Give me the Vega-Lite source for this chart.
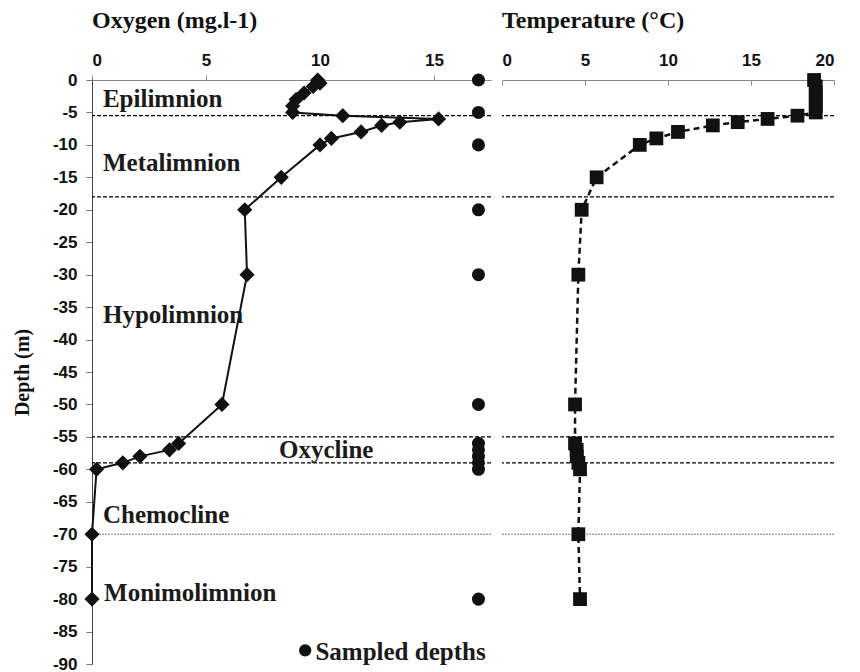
{
  "$schema": "https://vega.github.io/schema/vega-lite/v6.json",
  "background": "white",
  "padding": {"left": 12, "top": 9, "right": 5, "bottom": 3},
  "spacing": 9,
  "config": {
    "view": {"stroke": null},
    "axis": {"grid": false, "labelFont": "Liberation Sans", "labelFontWeight": "bold", "labelFontSize": 17, "labelColor": "#111", "labelOverlap": false, "titleFont": "Liberation Serif", "titleFontWeight": "bold", "titleColor": "#111"},
    "title": {"font": "Liberation Serif", "fontWeight": "bold", "fontSize": 24, "color": "#111", "anchor": "start", "frame": "group", "offset": 18}
  },
  "datasets": {
    "oxygen": [
      {"depth": 0, "oxygen": 9.9}, {"depth": -0.5, "oxygen": 10.0}, {"depth": -1, "oxygen": 9.7},
      {"depth": -2, "oxygen": 9.3}, {"depth": -3, "oxygen": 8.95}, {"depth": -4, "oxygen": 8.8},
      {"depth": -5, "oxygen": 8.8}, {"depth": -5.5, "oxygen": 11.0}, {"depth": -6, "oxygen": 15.2},
      {"depth": -6.5, "oxygen": 13.5}, {"depth": -7, "oxygen": 12.7}, {"depth": -8, "oxygen": 11.8},
      {"depth": -9, "oxygen": 10.5}, {"depth": -10, "oxygen": 10.0}, {"depth": -15, "oxygen": 8.3},
      {"depth": -20, "oxygen": 6.7}, {"depth": -30, "oxygen": 6.8}, {"depth": -50, "oxygen": 5.7},
      {"depth": -56, "oxygen": 3.8}, {"depth": -57, "oxygen": 3.4}, {"depth": -58, "oxygen": 2.1},
      {"depth": -59, "oxygen": 1.35}, {"depth": -60, "oxygen": 0.2}, {"depth": -70, "oxygen": 0},
      {"depth": -80, "oxygen": 0}
    ],
    "temperature": [
      {"depth": 0, "temp": 18.8}, {"depth": -1, "temp": 18.9}, {"depth": -2, "temp": 18.9},
      {"depth": -3, "temp": 18.9}, {"depth": -4, "temp": 18.9}, {"depth": -5, "temp": 18.9},
      {"depth": -5.5, "temp": 17.8}, {"depth": -6, "temp": 16.0}, {"depth": -6.5, "temp": 14.2},
      {"depth": -7, "temp": 12.7}, {"depth": -8, "temp": 10.6}, {"depth": -9, "temp": 9.3},
      {"depth": -10, "temp": 8.3}, {"depth": -15, "temp": 5.7}, {"depth": -20, "temp": 4.8},
      {"depth": -30, "temp": 4.6}, {"depth": -50, "temp": 4.4}, {"depth": -56, "temp": 4.4},
      {"depth": -57, "temp": 4.5}, {"depth": -58, "temp": 4.5}, {"depth": -59, "temp": 4.6},
      {"depth": -60, "temp": 4.7}, {"depth": -70, "temp": 4.6}, {"depth": -80, "temp": 4.7}
    ],
    "sampled": [
      {"depth": 0, "x": 16.95}, {"depth": -5, "x": 16.95}, {"depth": -10, "x": 16.95},
      {"depth": -20, "x": 16.95}, {"depth": -30, "x": 16.95}, {"depth": -50, "x": 16.95},
      {"depth": -56, "x": 16.95}, {"depth": -57, "x": 16.95}, {"depth": -58, "x": 16.95},
      {"depth": -59, "x": 16.95}, {"depth": -60, "x": 16.95}, {"depth": -80, "x": 16.95}
    ],
    "boundaries": [{"depth": -5.5}, {"depth": -18}, {"depth": -55}, {"depth": -59}],
    "chemo_boundary": [{"depth": -70}],
    "layers": [
      {"label": "Epilimnion", "x": 0.48, "depth": -4.2},
      {"label": "Metalimnion", "x": 0.48, "depth": -14},
      {"label": "Hypolimnion", "x": 0.48, "depth": -37.4},
      {"label": "Oxycline", "x": 8.2, "depth": -58.3},
      {"label": "Chemocline", "x": 0.48, "depth": -68.3},
      {"label": "Monimolimnion", "x": 0.53, "depth": -80.3}
    ],
    "legend_dot": [{"x": 9.35, "depth": -87.9}],
    "legend_text": [{"label": "Sampled depths", "x": 9.8, "depth": -89.4}]
  },
  "hconcat": [
    {
      "width": 399,
      "height": 584,
      "title": "Oxygen (mg.l-1)",
      "encoding": {
        "y": {"field": "depth", "type": "quantitative", "scale": {"domain": [-90, 0], "nice": false, "zero": false},
          "axis": {"title": "Depth (m)", "titleFontSize": 20, "titlePadding": 20, "values": [0, -5, -10, -15, -20, -25, -30, -35, -40, -45, -50, -55, -60, -65, -70, -75, -80, -85, -90], "tickSize": 6, "labelPadding": 9, "labelOverlap": false, "domainColor": "#444", "tickColor": "#777", "labelExpr": "toString(datum.value)"}}
      },
      "layer": [
        {
          "data": {"name": "boundaries"},
          "mark": {"type": "rule", "color": "#000", "strokeWidth": 1.2, "strokeDash": [4, 2]},
          "encoding": {}
        },
        {
          "data": {"name": "chemo_boundary"},
          "mark": {"type": "rule", "color": "#666", "strokeWidth": 0.9, "strokeDash": [2, 1]},
          "encoding": {}
        },
        {
          "data": {"name": "oxygen"},
          "mark": {"type": "line", "color": "#111", "strokeWidth": 2},
          "encoding": {
            "x": {"field": "oxygen", "type": "quantitative", "scale": {"domain": [0, 17.5], "nice": false, "zero": false},
              "axis": {"orient": "top", "title": null, "values": [0, 5, 10, 15], "tickSize": 5, "labelPadding": 6, "domainColor": "#888", "tickColor": "#888", "labelExpr": "toString(datum.value)"}},
            "order": {"field": "depth", "sort": "descending"}
          }
        },
        {
          "data": {"name": "oxygen"},
          "mark": {"type": "point", "shape": "diamond", "filled": true, "color": "#111", "size": 230, "opacity": 1},
          "encoding": {
            "x": {"field": "oxygen", "type": "quantitative"}
          }
        },
        {
          "data": {"name": "sampled"},
          "mark": {"type": "circle", "color": "#111", "size": 170, "opacity": 1},
          "encoding": {
            "x": {"field": "x", "type": "quantitative"}
          }
        },
        {
          "data": {"name": "layers"},
          "mark": {"type": "text", "align": "left", "baseline": "alphabetic", "font": "Liberation Serif", "fontWeight": "bold", "fontSize": 25, "color": "#1a1a1a"},
          "encoding": {
            "x": {"field": "x", "type": "quantitative"},
            "text": {"field": "label"}
          }
        },
        {
          "data": {"name": "legend_dot"},
          "mark": {"type": "circle", "color": "#111", "size": 150, "opacity": 1},
          "encoding": {
            "x": {"field": "x", "type": "quantitative"}
          }
        },
        {
          "data": {"name": "legend_text"},
          "mark": {"type": "text", "align": "left", "baseline": "alphabetic", "font": "Liberation Serif", "fontWeight": "bold", "fontSize": 25, "color": "#1a1a1a"},
          "encoding": {
            "x": {"field": "x", "type": "quantitative"},
            "text": {"field": "label"}
          }
        }
      ]
    },
    {
      "width": 332,
      "height": 584,
      "title": "Temperature (°C)",
      "encoding": {
        "y": {"field": "depth", "type": "quantitative", "scale": {"domain": [-90, 0], "nice": false, "zero": false}, "axis": null}
      },
      "layer": [
        {
          "data": {"name": "boundaries"},
          "mark": {"type": "rule", "color": "#000", "strokeWidth": 1.2, "strokeDash": [4, 2]},
          "encoding": {}
        },
        {
          "data": {"name": "chemo_boundary"},
          "mark": {"type": "rule", "color": "#666", "strokeWidth": 0.9, "strokeDash": [2, 1]},
          "encoding": {}
        },
        {
          "data": {"name": "temperature"},
          "mark": {"type": "line", "color": "#111", "strokeWidth": 2.5, "strokeDash": [6, 4]},
          "encoding": {
            "x": {"field": "temp", "type": "quantitative", "scale": {"domain": [0, 20], "nice": false, "zero": false},
              "axis": {"orient": "top", "title": null, "values": [0, 5, 10, 15, 20], "tickSize": -5, "labelPadding": 16, "domainColor": "#888", "tickColor": "#888", "labelExpr": "toString(datum.value)"}},
            "order": {"field": "depth", "sort": "descending"}
          }
        },
        {
          "data": {"name": "temperature"},
          "mark": {"type": "point", "shape": "square", "filled": true, "color": "#111", "size": 190, "opacity": 1},
          "encoding": {
            "x": {"field": "temp", "type": "quantitative"}
          }
        }
      ]
    }
  ]
}
